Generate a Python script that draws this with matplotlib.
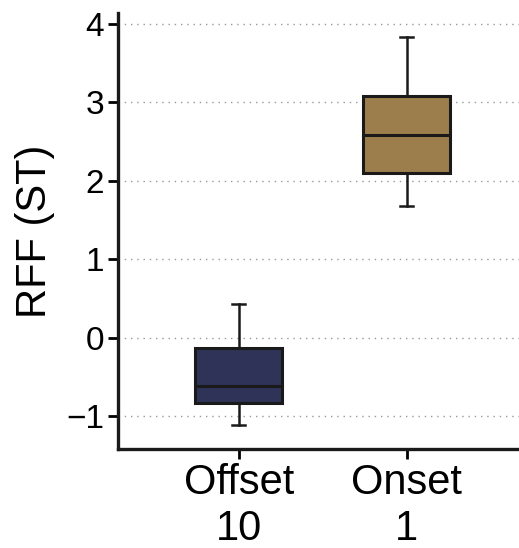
import matplotlib
matplotlib.use('Agg')

import matplotlib.pyplot as plt

# box statistics (RFF in semitones)
conditions = ['Offset\n10', 'Onset\n1']
whisker_low = [-1.12, 1.68]
q1 = [-0.84, 2.10]
medians = [-0.62, 2.59]
q3 = [-0.13, 3.08]
whisker_high = [0.43, 3.83]
box_colors = ['#2f3358', '#9c7e4c']
y_ticks = [-1, 0, 1, 2, 3, 4]

plt.rcParams['font.family'] = ['Liberation Sans', 'DejaVu Sans']

fig = plt.figure(figsize=(5.19, 5.48), dpi=100)
ax = fig.add_axes([0.227, 0.181, 0.773, 0.795])

stats = []
for i, name in enumerate(conditions):
    stats.append({
        'label': name,
        'whislo': whisker_low[i],
        'q1': q1[i],
        'med': medians[i],
        'q3': q3[i],
        'whishi': whisker_high[i],
        'fliers': [],
    })

bp = ax.bxp(stats, positions=[1, 2], widths=0.52, patch_artist=True,
            showfliers=False,
            boxprops=dict(linewidth=2.2, edgecolor='#1a1a1a'),
            medianprops=dict(color='#1a1a1a', linewidth=2.2),
            whiskerprops=dict(color='#1a1a1a', linewidth=1.8),
            capprops=dict(color='#1a1a1a', linewidth=1.8),
            capwidths=0.08)
for patch, c in zip(bp['boxes'], box_colors):
    patch.set_facecolor(c)
    patch.set_zorder(3)
for med in bp['medians']:
    med.set_zorder(4)

ax.set_xlim(0.28, 2.67)
ax.set_ylim(-1.42, 4.14)
ax.set_yticks(y_ticks)
ax.set_yticklabels(['\u22121', '0', '1', '2', '3', '4'])
ax.yaxis.grid(True, linestyle=(0, (1, 3.5)), color='#999999', linewidth=1.0)
ax.set_axisbelow(True)

ax.set_ylabel('RFF (ST)', fontsize=30, labelpad=8)
ax.tick_params(axis='y', labelsize=24, width=2, length=7, direction='out', pad=3)
ax.tick_params(axis='x', labelsize=30, width=2, length=7, direction='out', pad=3)

for side in ['top', 'right']:
    ax.spines[side].set_visible(False)
for side in ['left', 'bottom']:
    ax.spines[side].set_linewidth(2.4)
    ax.spines[side].set_color('#1a1a1a')

plt.savefig('out.png', dpi=100, facecolor='white')
plt.close()
